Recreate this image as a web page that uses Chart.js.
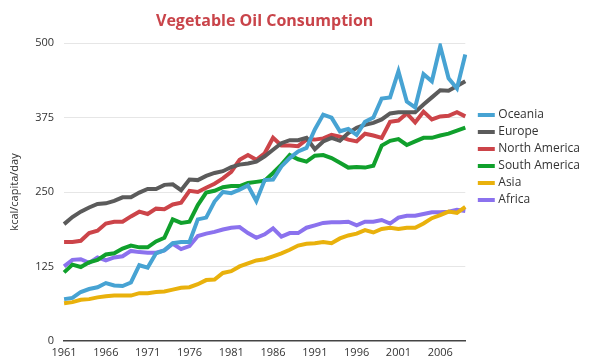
<!DOCTYPE html>
<html>
<head>
<meta charset="utf-8">
<script src="https://cdn.jsdelivr.net/npm/chart.js@4"></script>
<style>
  html, body { margin: 0; padding: 0; background: #fff; }
  #wrap { width: 600px; height: 363px; }
</style>
</head>
<body>
<div id="wrap"><canvas id="oilChart"></canvas></div>
<script>
const years = [];
for (let y = 1961; y <= 2009; y++) years.push(String(y));

const oceania = [70, 72, 82, 87, 90, 97, 93, 92, 98, 127, 123, 147, 152, 164, 166, 166, 204, 207, 234, 250,
  248, 254, 261, 235, 270, 271, 293, 307, 318, 324, 355, 380, 375, 352, 356, 346, 368, 375, 407, 409,
  453, 402, 392, 448, 436, 495, 441, 424, 481];
const europe = [196, 208, 217, 224, 230, 231, 235, 241, 241, 249, 255, 255, 262, 263, 253, 271, 270, 277, 282, 285,
  292, 296, 298, 301, 310, 321, 332, 337, 337, 341, 322, 335, 341, 336, 349, 358, 363, 366, 372, 382,
  384, 384, 384, 397, 409, 421, 420, 428, 436];
const northAmerica = [166, 166, 168, 181, 185, 197, 200, 200, 209, 217, 213, 222, 221, 229, 232, 252, 250, 257, 264, 273,
  284, 304, 312, 304, 315, 341, 328, 328, 327, 338, 338, 340, 346, 343, 338, 335, 348, 345, 341, 368,
  370, 382, 367, 385, 372, 377, 378, 384, 377];
const southAmerica = [115, 128, 124, 132, 136, 145, 147, 155, 160, 157, 157, 167, 173, 204, 198, 200, 228, 249, 252, 258,
  260, 260, 265, 267, 269, 282, 296, 312, 305, 301, 311, 312, 307, 299, 291, 292, 291, 294, 328, 336,
  339, 329, 335, 341, 341, 345, 348, 353, 358];
const asia = [63, 65, 69, 70, 73, 75, 76, 76, 76, 80, 80, 82, 83, 86, 89, 90, 95, 102, 103, 114,
  117, 125, 130, 135, 137, 142, 147, 153, 160, 163, 164, 166, 164, 172, 177, 180, 186, 182, 188, 190,
  188, 190, 190, 197, 206, 211, 217, 215, 225];
const africa = [125, 136, 137, 131, 140, 135, 140, 142, 151, 149, 148, 148, 152, 163, 154, 159, 176, 180, 183, 187,
  190, 191, 181, 173, 179, 189, 175, 181, 181, 190, 194, 198, 199, 199, 200, 194, 200, 200, 203, 197,
  207, 210, 210, 213, 216, 216, 217, 220, 218];

const yTicks = [0, 125, 250, 375, 500];

const series = [
  { label: 'Oceania', data: oceania, color: '#47a3d3' },
  { label: 'Europe', data: europe, color: '#5b5b5b' },
  { label: 'North America', data: northAmerica, color: '#cc4449' },
  { label: 'South America', data: southAmerica, color: '#10a02c' },
  { label: 'Asia', data: asia, color: '#e9b10c' },
  { label: 'Africa', data: africa, color: '#8b72ee' }
];

Chart.defaults.font.family = '"Open Sans", sans-serif';
Chart.defaults.color = '#444';

// nudge the legend: a bit away from the plot and down toward the upper middle
const legendShift = {
  id: 'legendShift',
  afterLayout(chart) {
    const lg = chart.legend;
    lg.left += 10; lg.right += 10;
    lg.top += 100; lg.bottom += 100;
  }
};

const ctx = document.getElementById('oilChart').getContext('2d');
const chart = new Chart(ctx, {
  type: 'line',
  data: {
    labels: years,
    datasets: series.map(s => ({
      label: s.label,
      data: s.data,
      borderColor: s.color,
      backgroundColor: s.color,
      borderWidth: 4,
      pointRadius: 0,
      tension: 0
    }))
  },
  options: {
    responsive: true,
    maintainAspectRatio: false,
    animation: false,
    layout: { padding: { left: 4, right: 20, top: 4, bottom: -1 } },
    plugins: {
      title: {
        display: true,
        fullSize: false,
        text: 'Vegetable Oil Consumption',
        color: '#c9444a',
        font: { size: 16, weight: 'bold' },
        padding: { top: 8, bottom: 12 }
      },
      legend: {
        position: 'right',
        align: 'start',
        labels: {
          usePointStyle: true,
          pointStyle: 'line',
          boxWidth: 12,
          color: '#333',
          font: { size: 12 },
          padding: 5
        }
      },
      tooltip: { enabled: false }
    },
    scales: {
      x: {
        offset: false,
        grid: { display: false, drawTicks: false },
        border: { display: true, color: '#444', width: 1.5 },
        ticks: {
          autoSkip: false,
          maxRotation: 0,
          color: '#333',
          font: { size: 11 },
          padding: 5,
          callback: function(val, i) { return i % 5 === 0 ? years[i] : ''; }
        }
      },
      y: {
        min: 0,
        max: 500,
        afterBuildTicks: axis => { axis.ticks = yTicks.map(v => ({ value: v })); },
        grid: { color: '#e6e6e6', drawTicks: false },
        border: { display: false },
        ticks: { color: '#333', font: { size: 11 }, padding: 10 },
        title: { display: true, text: 'kcal/capita/day', color: '#333', font: { size: 11 } }
      }
    }
  },
  plugins: [legendShift]
});
</script>
</body>
</html>
